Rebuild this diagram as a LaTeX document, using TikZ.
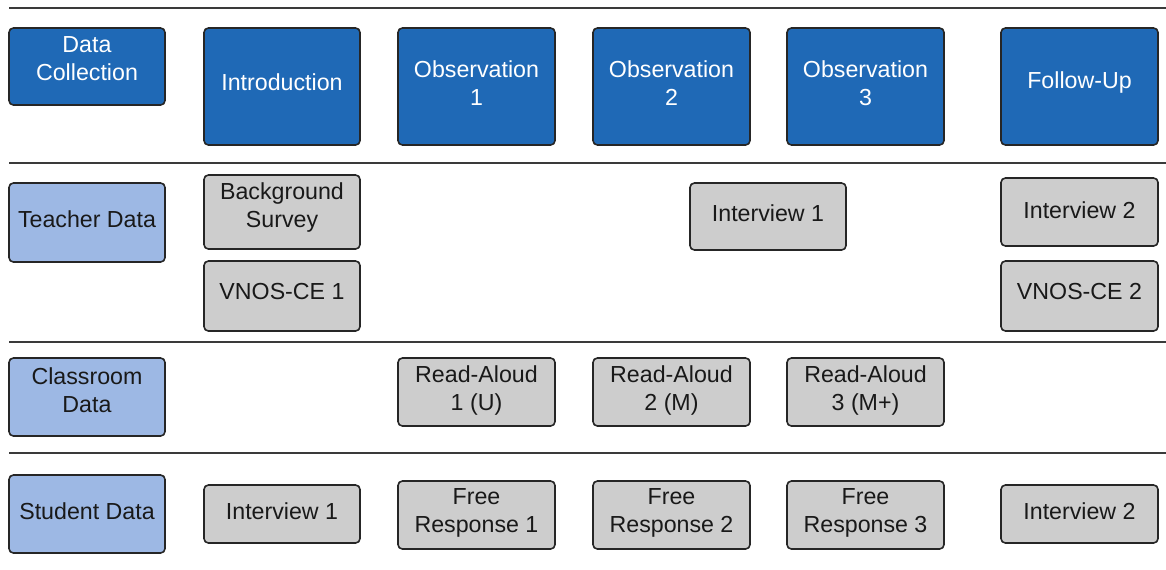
\documentclass[tikz,border=0pt]{standalone}
\usepackage{fontspec}
\setmainfont{Liberation Sans}
\definecolor{dkblue}{HTML}{1F69B6}
\definecolor{ltblue}{HTML}{9DB8E4}
\definecolor{gybox}{HTML}{CDCDCD}
\definecolor{edge}{HTML}{262626}
\definecolor{rulecol}{HTML}{3A3A3A}
\tikzset{
  basebox/.style={draw=edge, line width=0.8pt, rounded corners=2.2pt, inner sep=0pt},
  dk/.style={basebox, fill=dkblue},
  lt/.style={basebox, fill=ltblue},
  gy/.style={basebox, fill=gybox},
  txt/.style={align=center, inner sep=0pt, font=\fontsize{11.6pt}{14pt}\selectfont},
  dktext/.style={txt, text=white},
  lttext/.style={txt, text=black!90},
  gytext/.style={txt, text=black!90},
  sep/.style={draw=rulecol, line width=1pt},
}
% #1 name, #2 style, #3 x1, #4 y1, #5 x2, #6 y2, #7 text centre y, #8 text
\newcommand\mybox[8]{%
  \node[#2, minimum width={(#5-#3)*0.5pt}, minimum height={(#6-#4)*0.5pt}] (#1) at ({(#3+#5)/2},{(#4+#6)/2}) {};
  \node[#2text] (#1-t) at ({(#3+#5)/2},#7) {#8};
}
\begin{document}
\begin{tikzpicture}[x=0.5pt, y=-0.5pt]
\useasboundingbox (0,0) rectangle (1166,569);
% separators
\draw[sep] (9,8) -- (1166,8);
\draw[sep] (9,163) -- (1166,163);
\draw[sep] (9,341.5) -- (1166,341.5);
\draw[sep] (9,452.5) -- (1166,452.5);
% row 1
\mybox{dc}{dk}{9}{28}{165}{105}{59}{Data\\Collection}
\mybox{intro}{dk}{204}{28}{360}{145}{82}{Introduction}
\mybox{obs1}{dk}{398}{28}{555}{145}{83}{Observation\\1}
\mybox{obs2}{dk}{593}{28}{750}{145}{83}{Observation\\2}
\mybox{obs3}{dk}{787}{28}{944}{145}{83}{Observation\\3}
\mybox{fu}{dk}{1001}{28}{1158}{145}{82}{Follow-Up}
% row 2
\mybox{td}{lt}{9}{183}{165}{262}{219}{Teacher Data}
\mybox{bs}{gy}{204}{175}{360}{249}{207}{Background\\Survey}
\mybox{vn1}{gy}{204}{261}{360}{331}{292}{VNOS-CE 1}
\mybox{ti1}{gy}{690}{183}{846}{250}{213}{Interview 1}
\mybox{ti2}{gy}{1001}{178}{1158}{246}{210}{Interview 2}
\mybox{vn2}{gy}{1001}{261}{1158}{331}{292}{VNOS-CE 2}
% row 3
\mybox{cd}{lt}{9}{358}{165}{436}{390}{Classroom\\Data}
\mybox{ra1}{gy}{398}{358}{555}{426}{390.5}{Read-Aloud\\1 (U)}
\mybox{ra2}{gy}{593}{358}{750}{426}{390.5}{Read-Aloud\\2 (M)}
\mybox{ra3}{gy}{787}{358}{944}{426}{390.5}{Read-Aloud\\3 (M+)}
% row 4
\mybox{sd}{lt}{9}{475}{165}{553}{511}{Student Data}
\mybox{si1}{gy}{204}{485}{360}{543}{511}{Interview 1}
\mybox{fr1}{gy}{398}{481}{555}{549}{513}{Free\\Response 1}
\mybox{fr2}{gy}{593}{481}{750}{549}{513}{Free\\Response 2}
\mybox{fr3}{gy}{787}{481}{944}{549}{513}{Free\\Response 3}
\mybox{si2}{gy}{1001}{485}{1158}{543}{511}{Interview 2}
\end{tikzpicture}
\end{document}
